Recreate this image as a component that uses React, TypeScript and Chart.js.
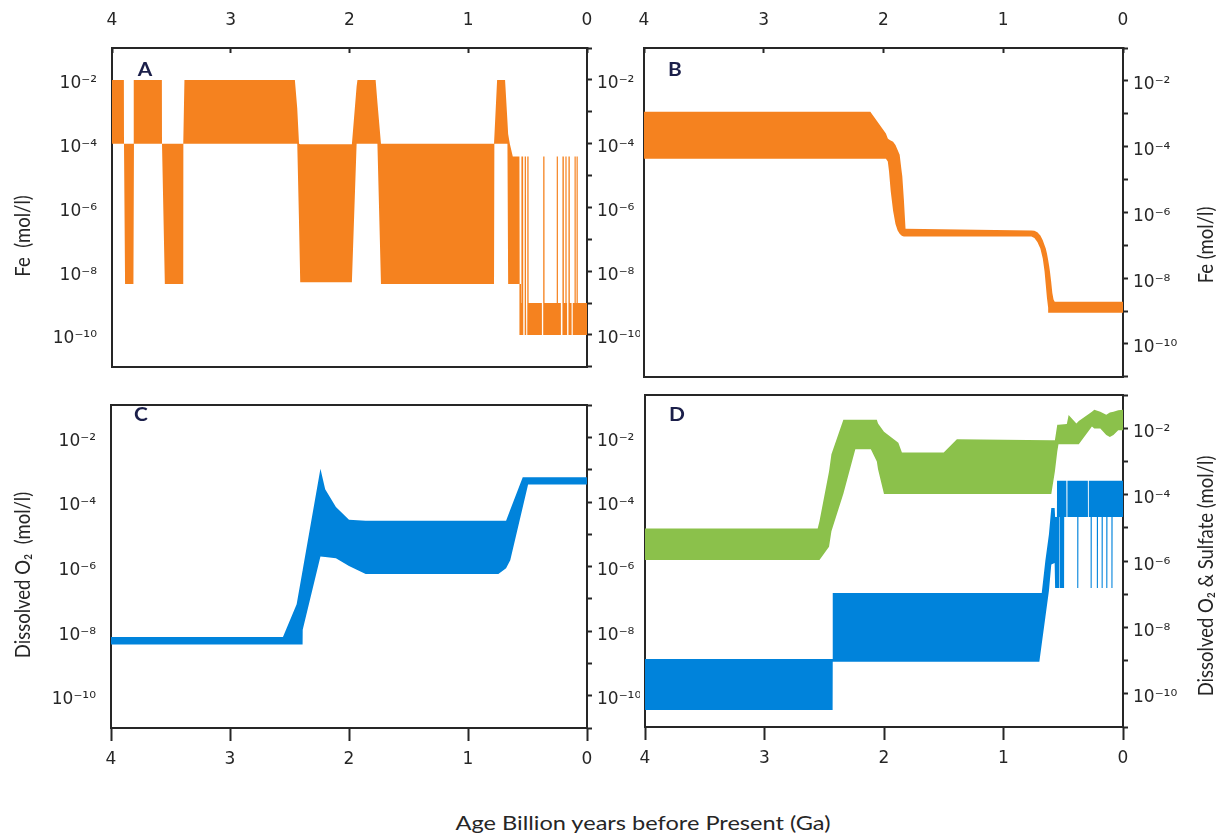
import React, { useEffect, useRef } from "react";
import { Chart, registerables } from "chart.js";

Chart.register(...registerables);

const FONT_FAMILY = "Lato, 'Open Sans', 'DejaVu Sans', sans-serif";
const TICK_FAMILY = "'DejaVu Sans', 'Noto Sans', sans-serif";
const TEXT = "#262626";
const AXIS = "#262626";
const ORANGE = "#F5821F";
const BLUE = "#0083DB";
const GREEN = "#8BC14B";

// Axis ticks
const ageTicks = [4, 3, 2, 1, 0];
const decadeTicks = [-11, -10, -9, -8, -7, -6, -5, -4, -3, -2, -1];
const labelledDecades = [-10, -8, -6, -4, -2];

// ---------- Panel A : Fe (mol/l), log10 values ----------
const feA_age = [
  4.0, 3.9, 3.899, 3.89, 3.82, 3.819, 3.815, 3.58, 3.579, 3.555, 3.4, 3.399, 3.39,
  2.46, 2.44, 2.425, 2.415, 1.98, 1.94, 1.933, 1.78, 1.765, 1.735, 0.783, 0.78, 0.757,
  0.69, 0.67, 0.664, 0.65, 0.625, 0.569, 0.567, 0.556, 0.555,
  0.5525, 0.552, 0.538, 0.5375,
  0.536, 0.5355, 0.5265, 0.526,
  0.5245, 0.524, 0.514, 0.5135,
  0.512, 0.5115, 0.5045, 0.504,
  0.5025, 0.502, 0.492, 0.4915,
  0.38, 0.3795, 0.3705, 0.37,
  0.3685, 0.368, 0.358, 0.3575,
  0.2555, 0.255, 0.245, 0.2445,
  0.22, 0.2195, 0.2105, 0.21,
  0.2055, 0.205, 0.195, 0.1945,
  0.1825, 0.182, 0.172, 0.1715,
  0.168, 0.1675, 0.1585, 0.158,
  0.1555, 0.155, 0.145, 0.1445,
  0.13, 0.1295, 0.1205, 0.12,
  0.1055, 0.105, 0.095, 0.0945,
  0.0885, 0.088, 0.078, 0.0775,
  0.0,
];
const feA_hi = [
  -2, -2, -4, -4, -4, -4, -2, -2, -4, -4, -4, -4, -2,
  -2, -2.9, -4, -4.02, -4.02, -2.2, -2, -2, -2.7, -4, -4, -4, -2,
  -2, -3.3, -3.7, -4.0, -4.4, -4.4, -8.4, -8.4, -9,
  -9, -4.4, -4.4, -9,
  -9, -10, -10, -9,
  -9, -4.4, -4.4, -9,
  -9, -10, -10, -9,
  -9, -4.4, -4.4, -9,
  -9, -10, -10, -9,
  -9, -4.4, -4.4, -9,
  -9, -4.4, -4.4, -9,
  -9, -10, -10, -9,
  -9, -4.4, -4.4, -9,
  -9, -4.4, -4.4, -9,
  -9, -10, -10, -9,
  -9, -4.4, -4.4, -9,
  -9, -10, -10, -9,
  -9, -4.4, -4.4, -9,
  -9, -4.4, -4.4, -9,
  -9,
];
const feA_lo = [
  -4, -4, -4, -8.4, -8.4, -4, -4, -4, -4, -8.4, -8.4, -4, -4,
  -4, -4, -6.5, -8.35, -8.35, -4, -4, -4, -4, -8.4, -8.4, -4, -4,
  -4, -4, -8.4, -8.4, -8.4, -8.4, -10, -10, -10,
  -10, -10, -10, -10,
  -10, -10, -10, -10,
  -10, -10, -10, -10,
  -10, -10, -10, -10,
  -10, -10, -10, -10,
  -10, -10, -10, -10,
  -10, -10, -10, -10,
  -10, -10, -10, -10,
  -10, -10, -10, -10,
  -10, -10, -10, -10,
  -10, -10, -10, -10,
  -10, -10, -10, -10,
  -10, -10, -10, -10,
  -10, -10, -10, -10,
  -10, -10, -10, -10,
  -10, -10, -10, -10,
  -10,
];

// ---------- Panel B : Fe (mol/l) model ----------
const feB_age = [
  4, 2.11, 1.98, 1.964, 1.954, 1.94, 1.92, 1.9, 1.882, 1.865, 1.85, 1.843, 1.83, 1.816,
  0.765, 0.74, 0.715, 0.69, 0.67, 0.655, 0.645, 0.635, 0.625, 0.618, 0.617, 0.61, 0.6,
  0.59, 0.58, 0.57, 0,
];
const feB_hi = [
  -2.94, -2.94, -3.6, -3.75, -3.78, -3.81, -3.85, -3.95, -4.1, -4.25, -4.7, -4.9, -5.6, -6.5,
  -6.55, -6.56, -6.6, -6.7, -6.85, -7.0, -7.1, -7.25, -7.45, -7.6, -7.62, -7.8, -8.1,
  -8.45, -8.65, -8.72, -8.72,
];
const feB_lo = [
  -4.37, -4.37, -4.37, -4.45, -4.75, -5.35, -5.95, -6.35, -6.55, -6.65, -6.7, -6.72, -6.73, -6.73,
  -6.73, -6.78, -6.9, -7.1, -7.4, -7.8, -8.2, -8.6, -8.9, -9.05, -9.05, -9.05, -9.05,
  -9.05, -9.05, -9.05, -9.05,
];

// ---------- Panel C : Dissolved O2 ----------
const o2C_age = [4, 2.555, 2.44, 2.39, 2.389, 2.24, 2.2, 2.11, 2.0, 1.86, 0.745, 0.68, 0.645, 0.54, 0.495, 0];
const o2C_hi = [-8.18, -8.18, -7.17, -6.12, -6.1, -2.97, -3.6, -4.15, -4.55, -4.58, -4.58, -4.58, -4.24, -3.23, -3.23, -3.23];
const o2C_lo = [-8.41, -8.41, -8.41, -8.41, -7.96, -5.69, -5.7, -5.74, -5.98, -6.23, -6.23, -6.05, -5.8, -4.16, -3.46, -3.46];

// ---------- Panel D : Sulfate (green) ----------
const sulD_age = [
  4, 2.555, 2.54, 2.46, 2.44, 2.34, 2.24, 2.11, 2.06, 2.05, 2.0, 1.88, 1.85, 1.5, 1.39,
  0.6, 0.57, 0.55, 0.54, 0.47, 0.455, 0.39, 0.37, 0.26, 0.24, 0.19, 0.14, 0.11, 0.08, 0.04, 0,
];
const sulD_hi = [
  -5.02, -5.02, -4.8, -3.3, -2.78, -1.74, -1.74, -1.74, -1.74, -1.85, -2.1, -2.43, -2.73, -2.73, -2.33,
  -2.36, -2.36, -1.89, -1.89, -1.87, -1.6, -1.85, -1.78, -1.5, -1.44, -1.5, -1.59, -1.52, -1.5, -1.45, -1.44,
];
const sulD_lo = [
  -5.97, -5.97, -5.97, -5.57, -5.1, -3.97, -2.63, -2.63, -3.0, -3.23, -3.98, -3.98, -3.98, -3.98, -3.98,
  -3.98, -3.3, -2.7, -2.48, -2.48, -2.48, -2.48, -2.48, -1.94, -2.0, -2.0, -2.2, -2.26, -2.2, -2.06, -2.06,
];

// ---------- Panel D : Dissolved O2 (blue) ----------
const o2D_age = [
  4, 2.43, 2.429, 0.7, 0.68, 0.65, 0.62, 0.6, 0.572, 0.568, 0.553, 0.552,
  0.532, 0.531, 0.527, 0.526, 0.493, 0.492,
  0.474, 0.473, 0.466, 0.465,
  0.383, 0.382, 0.374, 0.373,
  0.294, 0.293, 0.287, 0.286,
  0.271, 0.27, 0.262, 0.261,
  0.219, 0.218, 0.21, 0.209,
  0.179, 0.178, 0.17, 0.169,
  0.14, 0.139, 0.131, 0.13,
  0.097, 0.096, 0.088, 0.087,
  0,
];
const o2D_hi = [
  -8.95, -8.95, -6.96, -6.96, -6.96, -6.0, -5.2, -4.4, -4.4, -4.67, -4.67, -3.58,
  -3.58, -3.58, -3.58, -3.58, -3.58, -3.58,
  -3.58, -4.67, -4.67, -3.58,
  -3.58, -3.58, -3.58, -3.58,
  -3.58, -4.67, -4.67, -3.58,
  -3.58, -3.58, -3.58, -3.58,
  -3.58, -3.58, -3.58, -3.58,
  -3.58, -3.58, -3.58, -3.58,
  -3.58, -3.58, -3.58, -3.58,
  -3.58, -3.58, -3.58, -3.58,
  -3.58,
];
const o2D_lo = [
  -10.49, -10.49, -9.03, -9.03, -8.5, -7.7, -6.9, -6.1, -6.06, -6.81, -6.81, -6.81,
  -6.81, -4.67, -4.67, -6.81, -6.81, -4.67,
  -4.67, -4.67, -4.67, -4.67,
  -4.67, -6.81, -6.81, -4.67,
  -4.67, -4.67, -4.67, -4.67,
  -4.67, -6.81, -6.81, -4.67,
  -4.67, -6.81, -6.81, -4.67,
  -4.67, -6.81, -6.81, -4.67,
  -4.67, -6.81, -6.81, -4.67,
  -4.67, -6.81, -6.81, -4.67,
  -4.67,
];

const SUP: Record<string, string> = {
  "-": "\u207B", "0": "\u2070", "1": "\u00B9", "2": "\u00B2", "3": "\u00B3",
  "4": "\u2074", "5": "\u2075", "6": "\u2076", "7": "\u2077", "8": "\u2078", "9": "\u2079",
};
function powLabel(exp: number): string {
  return "10" + String(exp).split("").map((c) => SUP[c] ?? c).join("");
}
function logTickLabel(v: number): string {
  const e = Math.round(Math.log10(v));
  return labelledDecades.includes(e) ? powLabel(e) : "";
}

type Band = { age: number[]; hi: number[]; lo: number[]; color: string };
type PanelSpec = {
  left: number; top: number; width: number; height: number;
  leftW: number; rightW: number; topH: number; bottomH: number;
  topLabels: boolean; bottomLabels: boolean; leftLabels: boolean;
  bands: Band[];
};

const tickFont = { family: TICK_FAMILY, size: 17 };

function buildConfig(p: PanelSpec): any {
  const datasets: any[] = [];
  p.bands.forEach((b) => {
    datasets.push({
      data: b.age.map((a, i) => ({ x: a, y: Math.pow(10, b.hi[i]) })),
      fill: "+1",
      backgroundColor: b.color,
      borderColor: b.color,
      borderWidth: 0,
      pointRadius: 0,
      tension: 0,
      xAxisID: "x",
      yAxisID: "y",
    });
    datasets.push({
      data: b.age.map((a, i) => ({ x: a, y: Math.pow(10, b.lo[i]) })),
      fill: false,
      backgroundColor: b.color,
      borderColor: b.color,
      borderWidth: 0,
      pointRadius: 0,
      tension: 0,
      xAxisID: "x",
      yAxisID: "y",
    });
  });

  const border = { display: true, color: AXIS, width: 2 };
  const ageTickBuilder = (s: any) => {
    s.ticks = ageTicks.map((v) => ({ value: v }));
  };
  const decadeTickBuilder = (s: any) => {
    s.ticks = decadeTicks.map((e) => ({ value: Math.pow(10, e) }));
  };

  return {
    type: "line",
    data: { datasets },
    options: {
      responsive: false,
      maintainAspectRatio: false,
      animation: false,
      events: [],
      layout: { padding: 0 },
      plugins: { legend: { display: false }, tooltip: { enabled: false }, title: { display: false } },
      scales: {
        x: {
          type: "linear", position: "bottom", min: 0, max: 4, reverse: true,
          afterBuildTicks: ageTickBuilder,
          afterFit: (s: any) => { s.height = p.bottomH; },
          ticks: { display: p.bottomLabels, font: tickFont, color: TEXT, padding: 8, maxRotation: 0, autoSkip: false },
          grid: { drawOnChartArea: false, drawTicks: p.bottomLabels, tickLength: 13, tickWidth: 2, tickColor: AXIS },
          border,
        },
        xTop: {
          type: "linear", position: "top", min: 0, max: 4, reverse: true,
          afterBuildTicks: ageTickBuilder,
          afterFit: (s: any) => { s.height = p.topH; },
          ticks: { display: p.topLabels, font: tickFont, color: TEXT, padding: 22, maxRotation: 0, autoSkip: false },
          grid: { drawOnChartArea: false, drawTicks: p.topLabels, tickLength: -5, tickWidth: 2, tickColor: AXIS },
          border,
        },
        y: {
          type: "logarithmic", position: "left", min: 1e-11, max: 1e-1,
          afterBuildTicks: decadeTickBuilder,
          afterFit: (s: any) => { s.width = p.leftW; },
          ticks: { display: p.leftLabels, font: tickFont, color: TEXT, padding: 15, labelOffset: 4, autoSkip: false, callback: (v: any) => logTickLabel(Number(v)) },
          grid: { drawOnChartArea: false, drawTicks: false },
          border,
        },
        yRight: {
          type: "logarithmic", position: "right", min: 1e-11, max: 1e-1,
          afterBuildTicks: decadeTickBuilder,
          afterFit: (s: any) => { s.width = p.rightW; },
          ticks: { display: true, font: tickFont, color: TEXT, padding: 5, labelOffset: 4, autoSkip: false, callback: (v: any) => logTickLabel(Number(v)) },
          grid: { drawOnChartArea: false, drawTicks: true, tickLength: 5, tickWidth: 2, tickColor: AXIS },
          border,
        },
      },
    },
  };
}

const panels: PanelSpec[] = [
  {
    left: 0, top: 0, width: 640, height: 392, leftW: 112, rightW: 53, topH: 48, bottomH: 10,
    topLabels: true, bottomLabels: false, leftLabels: true,
    bands: [{ age: feA_age, hi: feA_hi, lo: feA_lo, color: ORANGE }],
  },
  {
    left: 616, top: 0, width: 600, height: 392, leftW: 28, rightW: 93, topH: 48, bottomH: 11,
    topLabels: true, bottomLabels: false, leftLabels: false,
    bands: [{ age: feB_age, hi: feB_hi, lo: feB_lo, color: ORANGE }],
  },
  {
    left: 0, top: 380, width: 640, height: 400, leftW: 111, rightW: 53, topH: 12, bottomH: 52,
    topLabels: false, bottomLabels: true, leftLabels: true,
    bands: [{ age: o2C_age, hi: o2C_hi, lo: o2C_lo, color: BLUE }],
  },
  {
    left: 616, top: 380, width: 600, height: 400, leftW: 29, rightW: 93, topH: 12, bottomH: 53,
    topLabels: false, bottomLabels: true, leftLabels: false,
    bands: [
      { age: sulD_age, hi: sulD_hi, lo: sulD_lo, color: GREEN },
      { age: o2D_age, hi: o2D_hi, lo: o2D_lo, color: BLUE },
    ],
  },
];

function Panel({ spec }: { spec: PanelSpec }) {
  const ref = useRef<HTMLCanvasElement | null>(null);
  useEffect(() => {
    if (!ref.current) return;
    const chart = new Chart(ref.current, buildConfig(spec));
    return () => chart.destroy();
  }, [spec]);
  return (
    <canvas
      ref={ref}
      width={spec.width}
      height={spec.height}
      style={{ position: "absolute", left: spec.left, top: spec.top, width: spec.width, height: spec.height }}
    />
  );
}

const panelLetters = [
  { text: "A", x: 145, y: 68 },
  { text: "B", x: 675, y: 68 },
  { text: "C", x: 141, y: 413 },
  { text: "D", x: 677, y: 413 },
];

const axisTitles = [
  { text: "Fe  (mol/l)", x: 22, y: 236 },
  { text: "Dissolved O\u2082  (mol/l)", x: 22, y: 575 },
  { text: "Fe (mol/l)", x: 1205, y: 245 },
  { text: "Dissolved O\u2082 & Sulfate (mol/l)", x: 1205, y: 576 },
];

export default function App() {
  return (
    <div style={{ position: "fixed", left: 0, top: 0, width: 1216, height: 836, background: "#ffffff", overflow: "hidden" }}>
      {panels.map((p, i) => (
        <Panel key={i} spec={p} />
      ))}
      {panelLetters.map((l) => (
        <div
          key={l.text}
          style={{
            position: "absolute", left: l.x, top: l.y, transform: "translate(-50%, -50%) scaleX(1.1)",
            fontFamily: FONT_FAMILY, fontWeight: 700, fontSize: 19, color: "#1b1f4a", lineHeight: 1,
          }}
        >
          {l.text}
        </div>
      ))}
      {axisTitles.map((t) => (
        <div
          key={t.text}
          style={{
            position: "absolute", left: t.x, top: t.y, transform: "translate(-50%, -50%) rotate(-90deg) scaleY(1.15)",
            fontFamily: FONT_FAMILY, fontSize: 18.5, color: TEXT, whiteSpace: "pre", lineHeight: 1,
          }}
        >
          {t.text}
        </div>
      ))}
      <div
        style={{
          position: "absolute", left: 643, top: 822, transform: "translate(-50%, -50%) scaleX(1.24)",
          fontFamily: FONT_FAMILY, fontSize: 19, color: TEXT, whiteSpace: "nowrap", lineHeight: 1,
        }}
      >
        Age Billion years before Present (Ga)
      </div>
    </div>
  );
}
